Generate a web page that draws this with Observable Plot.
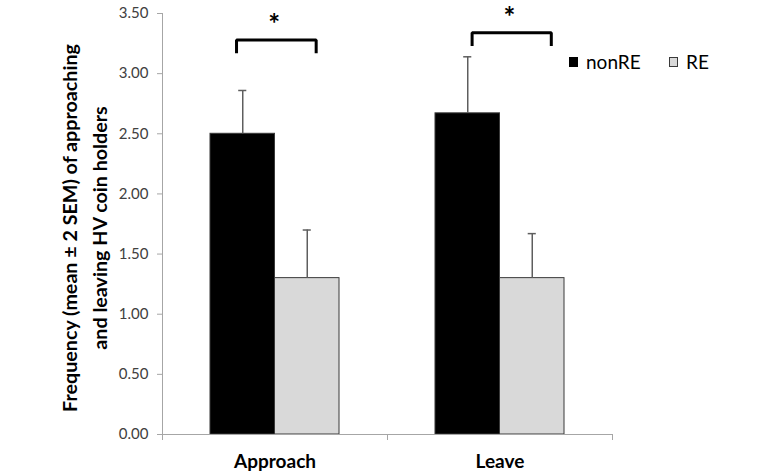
<!DOCTYPE html>
<html><head><meta charset="utf-8">
<script src="https://cdn.jsdelivr.net/npm/d3@7"></script>
<script src="https://cdn.jsdelivr.net/npm/@observablehq/plot@0.6"></script>
<style>
body{margin:0;background:#fff;font-family:Lato,"Open Sans",sans-serif;}
#wrap{position:relative;width:763px;height:476px;}
.leg{position:absolute;top:52px;height:19px;line-height:19px;font-size:19px;color:#000;display:flex;align-items:center;white-space:nowrap;}
.sw{display:inline-block;width:9px;height:10px;margin-right:8px;box-sizing:border-box;}
</style></head><body><div id="wrap"></div>
<script>
// ---- data ----
const categories = ["Approach", "Leave"];
const series = ["nonRE", "RE"];
const nonREMean = [2.50, 2.67];
const nonREErr2SEM = [0.36, 0.47];
const REMean = [1.30, 1.30];
const REErr2SEM = [0.40, 0.37];
const yTicks = [0, 0.5, 1, 1.5, 2, 2.5, 3, 3.5];
const sigMarks = ["*", "*"];
const sigBracketY = [3.28, 3.34];
const sigBracketLegY = [3.17, 3.23];
const yLabelLines = ["Frequency (mean \u00b1 2 SEM) of approaching", "and leaving HV coin holders"];

// ---- layout (chart geometry, not data) ----
const barW = 0.2867;          // width of one bar in category units
const capHalf = 0.018;        // error-bar cap half width
const bracketOffsets = [[-0.171, 0.183], [-0.124, 0.228]]; // bracket legs relative to group center

const rows = categories.flatMap((c, ci) => series.map((s, si) => ({
  category: c, series: s, ci, si,
  mean: si ? REMean[ci] : nonREMean[ci],
  err: si ? REErr2SEM[ci] : nonREErr2SEM[ci]
})));
const barX1 = d => d.ci + 0.5 + (d.si - 1) * barW;
const barX2 = d => d.ci + 0.5 + d.si * barW;
const barC = d => d.ci + 0.5 + (d.si - 0.5) * barW;

const bracketPts = categories.flatMap((c, ci) => {
  const [l, r] = bracketOffsets[ci].map(o => ci + 0.5 + o);
  return [
    {category: c, x: l, y: sigBracketLegY[ci]},
    {category: c, x: l, y: sigBracketY[ci]},
    {category: c, x: r, y: sigBracketY[ci]},
    {category: c, x: r, y: sigBracketLegY[ci]}
  ];
});
const stars = categories.map((c, ci) => ({
  category: c, label: sigMarks[ci],
  x: ci + 0.5 + (bracketOffsets[ci][0] + bracketOffsets[ci][1]) / 2 - 0.01,
  y: sigBracketY[ci]
}));

const axisGray = "#a6a6a6";
const chart = Plot.plot({
  width: 763, height: 476,
  marginLeft: 162, marginRight: 151, marginTop: 13, marginBottom: 42,
  style: {fontFamily: "Lato, 'Open Sans', sans-serif", background: "#fff"},
  x: {type: "linear", domain: [0, 2], axis: null},
  y: {domain: [0, 3.5], axis: null},
  color: {domain: series, range: ["#000000", "#d9d9d9"]},
  marks: [
    Plot.rectY(rows, {x1: barX1, x2: barX2, y1: 0, y2: "mean", fill: "series", stroke: "#3a3a3a", strokeWidth: 1}),
    Plot.ruleX(rows, {x: barC, y1: "mean", y2: d => d.mean + d.err, stroke: "#5e5e5e", strokeWidth: 1.5}),
    Plot.ruleY(rows, {y: d => d.mean + d.err, x1: d => barC(d) - capHalf, x2: d => barC(d) + capHalf, stroke: "#5e5e5e", strokeWidth: 1.5}),
    Plot.ruleX([0], {stroke: axisGray}),
    Plot.ruleY([0], {stroke: axisGray}),
    Plot.axisY({ticks: yTicks, tickFormat: d3.format(".2f"), tickSize: 5, tickPadding: 9, fontSize: 15, stroke: axisGray, fill: "#404040", label: null}),
    Plot.axisX({ticks: [0, 1, 2], tickSize: 6, tickFormat: () => "", stroke: axisGray, label: null}),
    Plot.axisX({ticks: [0.5, 1.5], tickSize: 0, tickPadding: 20, tickFormat: v => categories[Math.floor(v)], fontSize: 19, fontWeight: "bold", fill: "#000", label: null}),
    Plot.line(bracketPts, {x: "x", y: "y", z: "category", stroke: "#000", strokeWidth: 3, strokeLinejoin: "miter", strokeLinecap: "butt"}),
    Plot.text(stars, {x: "x", y: "y", text: "label", fontSize: 28, fontWeight: "bold", dy: -15, fill: "#000"}),
    Plot.text([yLabelLines.join("\n")], {text: d => d, frameAnchor: "left", textAnchor: "middle", lineAnchor: "middle", rotate: -90, dx: -80, dy: 4, fontSize: 19.7, fontWeight: "bold", lineHeight: 1.52, fill: "#000"})
  ]
});
const wrap = document.getElementById("wrap");
wrap.appendChild(chart);
const legendItems = [
  {label: series[0], left: 569, fill: "#000000", border: "#000"},
  {label: series[1], left: 669, fill: "#d9d9d9", border: "#3a3a3a"}
];
for (const it of legendItems) {
  const d = document.createElement("div");
  d.className = "leg";
  d.style.left = it.left + "px";
  const sw = document.createElement("span");
  sw.className = "sw";
  sw.style.background = it.fill;
  sw.style.border = "1px solid " + it.border;
  d.appendChild(sw);
  d.appendChild(document.createTextNode(it.label));
  wrap.appendChild(d);
}
chart.style.position = "absolute";
chart.style.left = "0";
chart.style.top = "0";
</script>
</body></html>
